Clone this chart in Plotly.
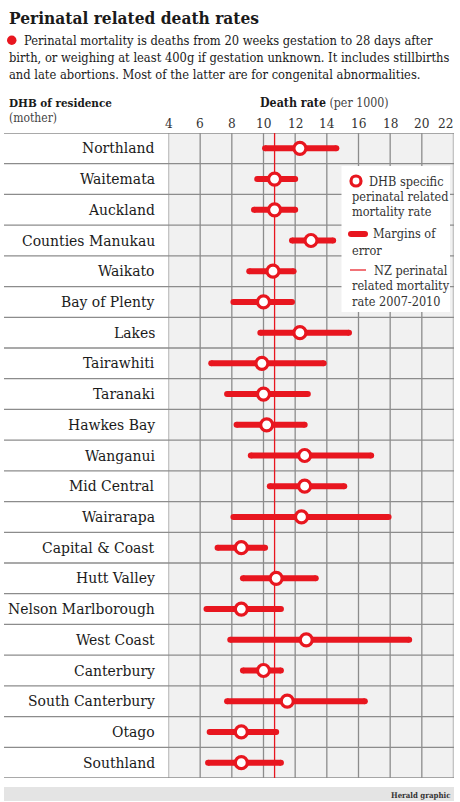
import plotly.graph_objects as go

# ---------------- data ----------------
dhbs = ["Northland", "Waitemata", "Auckland", "Counties Manukau", "Waikato",
        "Bay of Plenty", "Lakes", "Tairawhiti", "Taranaki", "Hawkes Bay",
        "Wanganui", "Mid Central", "Wairarapa", "Capital & Coast", "Hutt Valley",
        "Nelson Marlborough", "West Coast", "Canterbury", "South Canterbury",
        "Otago", "Southland"]
rate = [12.3, 10.7, 10.7, 13.0, 10.6, 10.0, 12.3, 9.9, 10.0, 10.2,
        12.6, 12.6, 12.4, 8.6, 10.8, 8.6, 12.7, 10.0, 11.5, 8.6, 8.6]
low = [10.1, 9.6, 9.4, 11.8, 9.1, 8.1, 9.8, 6.7, 7.7, 8.3,
       9.2, 10.4, 8.1, 7.1, 8.7, 6.4, 7.9, 8.7, 7.7, 6.6, 6.5]
high = [14.6, 12.0, 12.0, 14.4, 11.9, 11.8, 15.4, 13.8, 12.8, 12.6,
        16.8, 15.1, 17.9, 10.1, 13.3, 11.1, 19.2, 11.1, 16.4, 10.8, 11.1]
nz_rate = 10.7
x_ticks = [4, 6, 8, 10, 12, 14, 16, 18, 20, 22]

# ---------------- styling ----------------
W, H = 460, 802
RED = "#e8161f"
GRID = "#8c8c8c"
CELL = "#f1f1f1"
SERIF = "'DejaVu Serif Condensed', 'Liberation Serif', serif"
TXT = "#1a1a1a"

X0, X1 = 168.5, 453.5   # plot area px
Y0, Y1 = 133, 778


def px(x):
    return x / W


def py(y):
    return 1 - y / H


n = len(dhbs)
ypos = list(range(n))

fig = go.Figure()

# error bars (margins of error)
ex, ey = [], []
for i in range(n):
    ex += [low[i], high[i], None]
    ey += [ypos[i], ypos[i], None]
fig.add_trace(go.Scatter(x=ex, y=ey, mode="lines+markers",
                         line=dict(color=RED, width=6),
                         marker=dict(color=RED, size=6),
                         hoverinfo="skip", showlegend=False))
# rate points
fig.add_trace(go.Scatter(x=rate, y=ypos, mode="markers",
                         marker=dict(symbol="circle", size=12, color="white",
                                     line=dict(color=RED, width=3.2)),
                         text=dhbs, hovertemplate="%{text}: %{x}<extra></extra>",
                         showlegend=False))

shapes = []
# grey cell background
shapes.append(dict(type="rect", xref="x", yref="paper", x0=x_ticks[0], x1=x_ticks[-1],
                   y0=py(Y1), y1=py(Y0), fillcolor=CELL, line_width=0, layer="below"))
# vertical grid lines
for t in x_ticks:
    shapes.append(dict(type="line", xref="x", yref="paper", x0=t, x1=t,
                       y0=py(Y1), y1=py(Y0), line=dict(color=GRID, width=1.3), layer="below"))
# horizontal row lines
for k in range(n + 1):
    shapes.append(dict(type="line", xref="paper", yref="y", x0=px(4), x1=px(454),
                       y0=k - 0.5, y1=k - 0.5, line=dict(color=GRID, width=1.3), layer="below"))
# NZ rate line
shapes.append(dict(type="line", xref="x", yref="paper", x0=nz_rate, x1=nz_rate,
                   y0=py(Y1), y1=py(Y0), line=dict(color=RED, width=1.3), layer="below"))
# legend box
shapes.append(dict(type="rect", xref="paper", yref="paper", x0=px(341.5), x1=px(450),
                   y0=py(312), y1=py(166), fillcolor="white", line_width=0, layer="above"))
# legend symbols
shapes.append(dict(type="circle", xref="paper", yref="paper", x0=px(351), x1=px(361),
                   y0=py(186), y1=py(176), fillcolor="white",
                   line=dict(color=RED, width=3.2), layer="above"))
shapes.append(dict(type="line", xref="paper", yref="paper", x0=px(351), x1=px(365),
                   y0=py(234), y1=py(234), line=dict(color=RED, width=6), layer="above"))
shapes.append(dict(type="circle", xref="paper", yref="paper", x0=px(348), x1=px(354),
                   y0=py(237), y1=py(231), fillcolor=RED, line_width=0, layer="above"))
shapes.append(dict(type="circle", xref="paper", yref="paper", x0=px(362), x1=px(368),
                   y0=py(237), y1=py(231), fillcolor=RED, line_width=0, layer="above"))
shapes.append(dict(type="line", xref="paper", yref="paper", x0=px(350), x1=px(366),
                   y0=py(270), y1=py(270), line=dict(color=RED, width=1.2), layer="above"))
# subtitle red dot
shapes.append(dict(type="circle", xref="paper", yref="paper", x0=px(7), x1=px(16.5),
                   y0=py(45), y1=py(35.5), fillcolor=RED, line_width=0))
# footer bar
shapes.append(dict(type="rect", xref="paper", yref="paper", x0=px(4), x1=px(454),
                   y0=py(801), y1=py(787), fillcolor="#e4e4e4", line_width=0))

ann = []


def text(x, y, s, size, anchor="left", color=TXT, family=SERIF):
    ann.append(dict(x=px(x), y=py(y), xref="paper", yref="paper", text=s,
                    showarrow=False, xanchor=anchor, yanchor="middle",
                    font=dict(family=family, size=size, color=color)))


text(7, 18, "<b>Perinatal related death rates</b>", 17.2)
text(22, 41, "Perinatal mortality is deaths from 20 weeks gestation to 28 days after", 12.8)
text(7, 57.5, "birth, or weighing at least 400g if gestation unknown. It includes stillbirths", 12.8)
text(7, 74, "and late abortions. Most of the latter are for congenital abnormalities.", 12.8)
text(7, 103, "<b>DHB of residence</b>", 11.6)
text(7, 118, "(mother)", 12, color="#444")
text(324, 103, "<b>Death rate</b> <span style='color:#444'>(per 1000)</span>", 12.3, anchor="center")
for t in x_ticks:
    xp = X0 + (t - x_ticks[0]) / (x_ticks[-1] - x_ticks[0]) * (X1 - X0)
    if t == x_ticks[-1]:
        xp -= 8
    text(xp, 123, str(t), 13.5, anchor="center", color="#333")
row_h = (Y1 - Y0) / n
for i, d in enumerate(dhbs):
    text(157, Y0 + row_h * (i + 0.5), d, 15.5, anchor="right")
# legend text
for y, s in [(181, "DHB specific"), (196.5, "perinatal related"), (212, "mortality rate")]:
    text(367 if s == "DHB specific" else 350, y, s, 12.6, color="#333")
text(371, 234, "Margins of", 12.6, color="#333")
text(350, 250, "error", 12.6, color="#333")
text(372, 270, "NZ perinatal", 12.6, color="#333")
text(350, 285.5, "related mortality", 12.6, color="#333")
text(350, 301, "rate 2007-2010", 12.6, color="#333")
text(452, 795, "<b>Herald graphic</b>", 7.8, anchor="right", color="#333")

fig.update_layout(
    width=W, height=H, margin=dict(l=0, r=0, t=0, b=0),
    paper_bgcolor="white", plot_bgcolor="rgba(0,0,0,0)",
    xaxis=dict(domain=[px(X0), px(X1)], range=[x_ticks[0], x_ticks[-1]],
               showgrid=False, zeroline=False, showticklabels=False, fixedrange=True),
    yaxis=dict(domain=[py(Y1), py(Y0)], range=[n - 0.5, -0.5],
               showgrid=False, zeroline=False, showticklabels=False, fixedrange=True),
    shapes=shapes, annotations=ann, showlegend=False,
)

fig.write_html("out.html")
